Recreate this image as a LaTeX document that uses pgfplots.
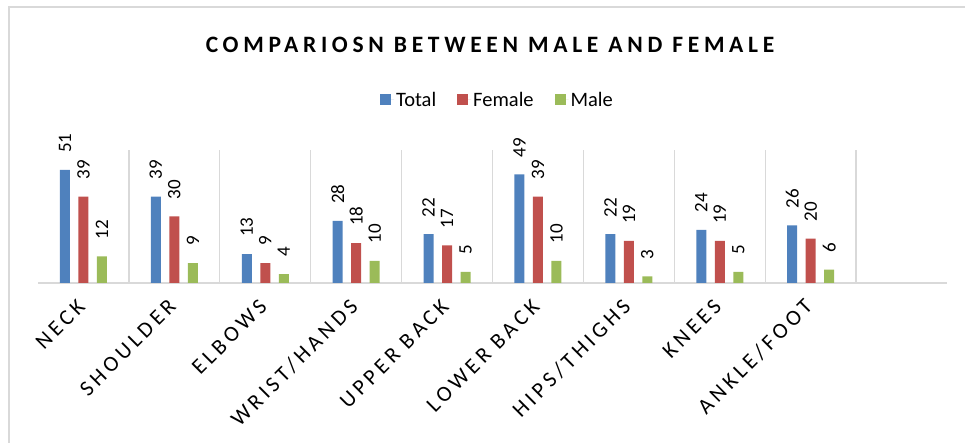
\documentclass[border=0pt]{standalone}
\usepackage{pgfplots}
\pgfplotsset{compat=1.18}
\usepackage{fontspec}
\setmainfont{Carlito}
\newfontfamily\catfont{Carlito}[LetterSpace=18]
\newfontfamily\titlefont{Carlito}[LetterSpace=20]
\definecolor{cblue}{HTML}{4F81BD}
\definecolor{cred}{HTML}{C0504D}
\definecolor{cgreen}{HTML}{9BBB59}
\definecolor{gridgray}{HTML}{D9D9D9}
\begin{document}
\begin{tikzpicture}[x=1pt,y=1pt]
\useasboundingbox (0,0) rectangle (965,443);
\draw[gridgray, line width=2pt] (9,-20) -- (9,436) -- (1000,436);
\node[font=\titlefont\bfseries\fontsize{23.5}{25}\selectfont, text=black] at (490,398) {COMPARIOSN BETWEEN MALE AND FEMALE};
\begin{axis}[
  at={(38pt,160pt)}, anchor=south west,
  scale only axis, width=909pt, height=133pt,
  xmin=0, xmax=10, ymin=0, ymax=60,
  clip=false,
  ybar=8.5pt, bar width=10pt,
  axis x line*=bottom, axis y line=none,
  x axis line style={-, draw=gridgray, line width=1.5pt},
  ytick=\empty,
  xtick={0.5,1.5,2.5,3.5,4.5,5.5,6.5,7.5,8.5},
  xticklabels={NECK,SHOULDER,ELBOWS,WRIST/HANDS,UPPER BACK,LOWER BACK,HIPS/THIGHS,KNEES,ANKLE/FOOT},
  major tick length=0pt,
  xticklabel style={font=\catfont\fontsize{22}{24}\selectfont, xshift=-2pt, yshift=-20pt, rotate=45, anchor=east, text=black, inner sep=0pt},
  extra x ticks={1,2,3,4,5,6,7,8,9},
  extra x tick labels={},
  extra x tick style={grid=major, major grid style={draw=gridgray, line width=1.3pt}, major tick length=0pt},
  /pgf/number format/assume math mode=true,
  nodes near coords,
  nodes near coords style={font=\fontsize{19}{20}\selectfont, text=black, rotate=90, anchor=west, inner sep=0pt, xshift=17pt},
  legend style={at={(axis description cs:0.5,1)}, anchor=center, xshift=5pt, yshift=50pt, draw=none, fill=none,
    legend columns=3, font=\fontsize{20.5}{22}\selectfont,
    /tikz/every even column/.append style={column sep=19pt}},
]
\addplot[fill=cblue, draw=none, legend image code/.code={\fill[cblue] (0pt,-5.5pt) rectangle (11pt,5.5pt); \path (0pt,0pt) -- (14pt,0pt);}] coordinates {(0.5,51) (1.5,39) (2.5,13) (3.5,28) (4.5,22) (5.5,49) (6.5,22) (7.5,24) (8.5,26)};
\addplot[fill=cred, draw=none, legend image code/.code={\fill[cred] (0pt,-5.5pt) rectangle (11pt,5.5pt); \path (0pt,0pt) -- (14pt,0pt);}] coordinates {(0.5,39) (1.5,30) (2.5,9) (3.5,18) (4.5,17) (5.5,39) (6.5,19) (7.5,19) (8.5,20)};
\addplot[fill=cgreen, draw=none, legend image code/.code={\fill[cgreen] (0pt,-5.5pt) rectangle (11pt,5.5pt); \path (0pt,0pt) -- (14pt,0pt);}] coordinates {(0.5,12) (1.5,9) (2.5,4) (3.5,10) (4.5,5) (5.5,10) (6.5,3) (7.5,5) (8.5,6)};
\legend{Total,Female,Male}
\end{axis}
\end{tikzpicture}
\end{document}
